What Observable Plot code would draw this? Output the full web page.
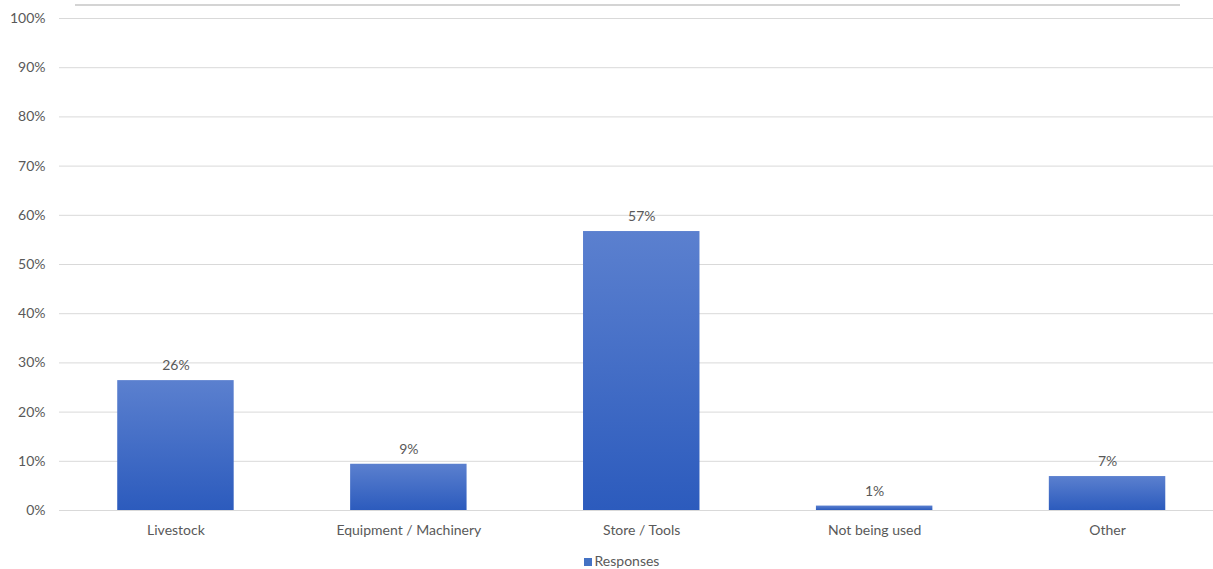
<!DOCTYPE html>
<html>
<head>
<meta charset="utf-8">
<script src="https://cdn.jsdelivr.net/npm/d3@7"></script>
<script src="https://cdn.jsdelivr.net/npm/@observablehq/plot@0.6"></script>
<style>
  html, body { margin: 0; padding: 0; background: #fff; overflow: hidden; }
  #wrap { position: relative; width: 1213px; height: 569px; font-family: Lato, "Open Sans", sans-serif; }
  #topline { position: absolute; left: 75px; top: 4px; width: 1105px; height: 0; border-top: 2px solid #d4d4d4; }
  #legend { position: absolute; left: 0; width: 1213px; top: 552px; text-align: center; font-size: 14px; color: #595959; padding-left: 30px; box-sizing: border-box; }
  #legend .sw { display: inline-block; width: 8px; height: 8px; background: #4472c4; margin-right: 3px; vertical-align: 0px; }
</style>
</head>
<body>
<div id="wrap">
  <div id="chart"></div>
  <div id="topline"></div>
  <div id="legend"><span class="sw"></span>Responses</div>
</div>
<script>
const categories = ["Livestock", "Equipment / Machinery", "Store / Tools", "Not being used", "Other"];
const responses = [26.4, 9.4, 56.7, 0.9, 6.9];
const yTicks = [0, 10, 20, 30, 40, 50, 60, 70, 80, 90, 100];

const data = categories.map((c, i) => ({category: c, value: responses[i]}));

const chart = Plot.plot({
  width: 1213,
  height: 545,
  marginTop: 18,
  marginBottom: 35,
  marginLeft: 59,
  marginRight: 0,
  style: {fontFamily: "Lato, 'Open Sans', sans-serif", fontSize: "14px", color: "#595959", background: "#fff"},
  x: {domain: categories, range: [59, 1223.5], round: false, paddingInner: 0.5, paddingOuter: 0.25, label: null, tickSize: 0, tickPadding: 15},
  y: {domain: [0, 100], label: null, ticks: yTicks, tickFormat: d => d + "%", tickSize: 0, tickPadding: 14},
  marks: [
    Plot.ruleY(yTicks, {stroke: "#d9d9d9", strokeWidth: 1, strokeOpacity: 1}),
    Plot.barY(data, {x: "category", y: "value", fill: "url(#barGrad)", inset: 0}),
    Plot.text(data, {x: "category", y: "value", text: d => Math.round(d.value) + "%", dy: -15, fill: "#595959", fontSize: 14})
  ]
});

const defs = d3.select(chart).insert("defs", ":first-child");
const g = defs.append("linearGradient").attr("id", "barGrad").attr("x1", 0).attr("y1", 0).attr("x2", 0).attr("y2", 1);
g.append("stop").attr("offset", "0%").attr("stop-color", "#5b80cf");
g.append("stop").attr("offset", "100%").attr("stop-color", "#2c5bbd");

document.getElementById("chart").appendChild(chart);
</script>
</body>
</html>
